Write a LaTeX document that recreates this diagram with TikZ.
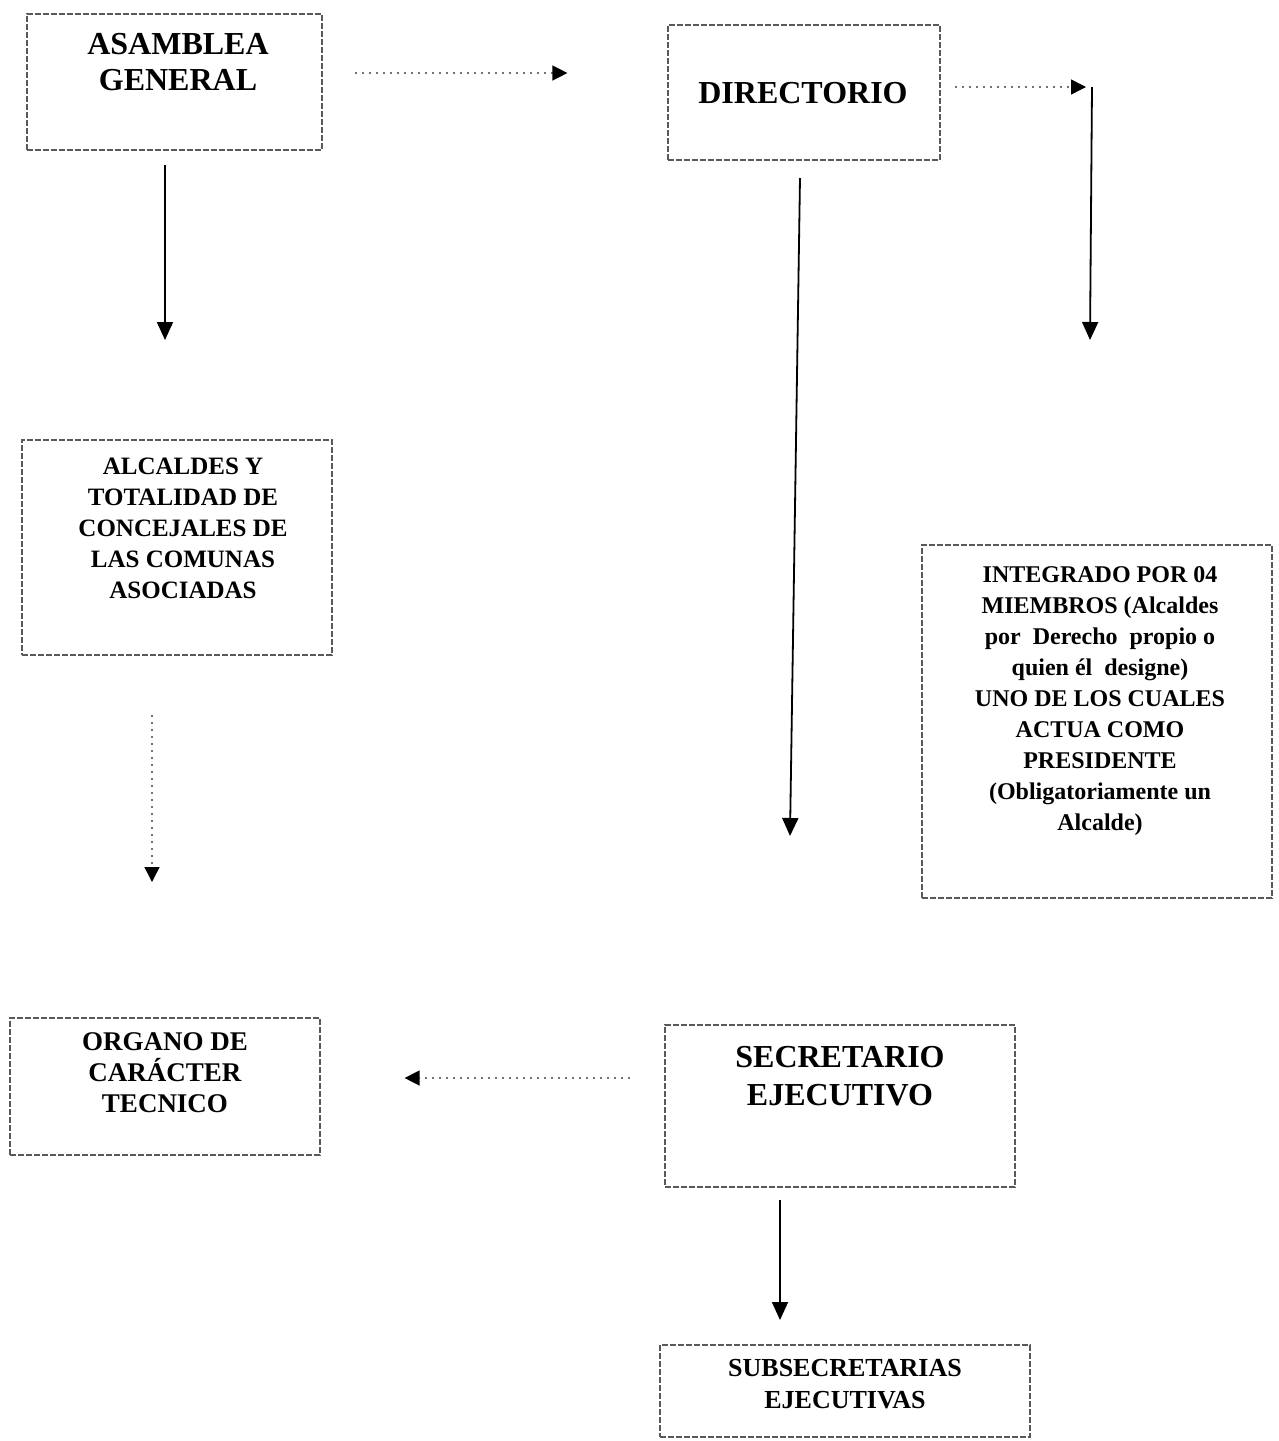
\documentclass[tikz,border=0pt]{standalone}
\usepackage{fontspec}
\setmainfont{Liberation Serif}
\usetikzlibrary{arrows.meta,fit,calc}
\begin{document}
\begin{tikzpicture}[x=0.5pt,y=-0.5pt,
  orgbox/.style={draw=black!65, line width=0.6pt, dash pattern=on 3pt off 1pt, inner sep=0pt},
  txt/.style={align=center, inner sep=0pt, font=\bfseries},
  solidarrow/.style={draw=black, line width=0.9pt, -{Triangle[width=8pt,length=9pt]}},
  dotarrow/.style={draw=black!55, line width=0.7pt, dash pattern=on 1pt off 2.5pt, -{Triangle[width=7.5pt,length=7.5pt,color=black]}}
]
\useasboundingbox (0,0) rectangle (1279,1441);
\fill[white] (0,0) rectangle (1279,1441);

% boxes
\node[orgbox, fit={(27,14) (322,150)}] (asamblea) {};
\node[orgbox, fit={(668,25) (940,160)}] (directorio) {};
\node[orgbox, fit={(22,440) (332,655)}] (alcaldes) {};
\node[orgbox, fit={(922,545) (1272,898)}] (integrado) {};
\node[orgbox, fit={(10,1018) (320,1155)}] (organo) {};
\node[orgbox, fit={(665,1025) (1015,1187)}] (secretario) {};
\node[orgbox, fit={(660,1345) (1030,1437)}] (subsec) {};

% texts
\node[txt, font=\bfseries\fontsize{16}{18}\selectfont] (asambleaT) at (178,62) {ASAMBLEA\\GENERAL};
\node[txt, font=\bfseries\fontsize{16}{18}\selectfont] (directorioT) at (803,93) {DIRECTORIO};
\node[txt, font=\bfseries\fontsize{12.5}{15.5}\selectfont] (alcaldesT) at (183,528) {ALCALDES Y\\TOTALIDAD DE\\CONCEJALES DE\\LAS COMUNAS\\ASOCIADAS};
\node[txt, font=\bfseries\fontsize{12}{15.5}\selectfont] (integradoT) at (1100,701) {INTEGRADO POR 04\\MIEMBROS (Alcaldes\\por\ \ Derecho\ \ propio o\\quien él\ \ designe)\\UNO DE LOS CUALES\\ACTUA COMO\\PRESIDENTE\\(Obligatoriamente un\\Alcalde)};
\node[txt, font=\bfseries\fontsize{13.5}{15.5}\selectfont] (organoT) at (165,1073) {ORGANO DE\\CARÁCTER\\TECNICO};
\node[txt, font=\bfseries\fontsize{16}{19}\selectfont] (secretarioT) at (840,1076) {SECRETARIO\\EJECUTIVO};
\node[txt, font=\bfseries\fontsize{13}{16}\selectfont] (subsecT) at (845,1384) {SUBSECRETARIAS\\EJECUTIVAS};

% free ends
\coordinate (corner) at (1092,87);
\coordinate (intEnd) at (1090,340);
\coordinate (asaStart) at (165,165);
\coordinate (asaEnd) at (165,340);
\coordinate (dirStart) at (800,178);
\coordinate (dirEnd) at (790,836);
\coordinate (alcStart) at (152,715);
\coordinate (alcEnd) at (152,882);
\coordinate (secStart) at (780,1200);
\coordinate (secEnd) at (780,1320);

% connectors
\draw[dotarrow, shorten <=16pt, shorten >=50pt] (asamblea.east |- 0,73) -- (directorio.west |- 0,73);
\draw[dotarrow, shorten <=7pt, shorten >=3pt] (directorio.east |- corner) -- (corner);
\draw[solidarrow] (corner) -- (intEnd);
\draw[solidarrow] (asaStart) -- (asaEnd);
\draw[solidarrow] (dirStart) -- (dirEnd);
\draw[dotarrow] (alcStart) -- (alcEnd);
\draw[dotarrow, shorten <=17pt, shorten >=42pt] (secretario.west |- 0,1078) -- (organo.east |- 0,1078);
\draw[solidarrow] (secStart) -- (secEnd);
\end{tikzpicture}
\end{document}
